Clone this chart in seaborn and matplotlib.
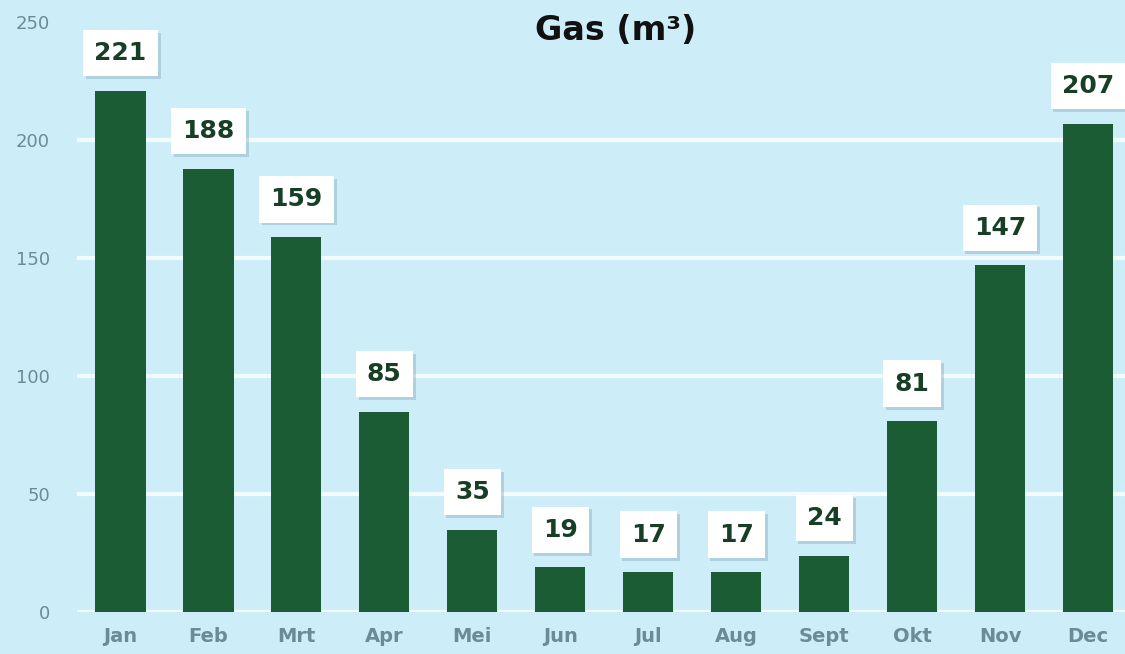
import matplotlib
matplotlib.use("Agg")
import matplotlib.pyplot as plt
import matplotlib.patheffects as pe
import seaborn as sns
import pandas as pd

# data
months = ["Jan", "Feb", "Mrt", "Apr", "Mei", "Jun", "Jul", "Aug", "Sept", "Okt", "Nov", "Dec"]
gas = [221, 188, 159, 85, 35, 19, 17, 17, 24, 81, 147, 207]
yticks = [0, 50, 100, 150, 200, 250]

bg = "#cdeef9"
bar_color = "#1b5c34"
tick_color = "#6a8c98"

sns.set_style("whitegrid", {"axes.facecolor": bg, "figure.facecolor": bg,
                            "grid.color": "white", "axes.edgecolor": bg})
plt.rcParams["font.family"] = ["DejaVu Sans"]

df = pd.DataFrame({"month": months, "gas": gas})

fig = plt.figure(figsize=(11.25, 6.54), dpi=100)
ax = fig.add_axes([0.068, 0.064, 0.932, 0.902])

sns.barplot(data=df, x="month", y="gas", color=bar_color, saturation=1,
            width=0.57, linewidth=0, ax=ax, zorder=3)

ax.set_ylim(0, 250)
ax.set_xlim(-0.5, 11.42)
ax.set_yticks(yticks)
ax.grid(axis="y", color="#f4fbfd", linewidth=3, zorder=0)
ax.grid(axis="x", visible=False)
ax.set_axisbelow(True)
# no gridline at the top tick
ax.get_ygridlines()[-1].set_visible(False)
for s in ax.spines.values():
    s.set_visible(False)
ax.tick_params(axis="both", length=0, colors=tick_color)
ax.tick_params(axis="y", labelsize=13, pad=19)
ax.tick_params(axis="x", labelsize=14, pad=11)
for lbl in ax.get_xticklabels():
    lbl.set_fontweight("bold")
ax.set_xlabel("")
ax.set_ylabel("")

# value labels in white boxes
for i, v in enumerate(gas):
    t = ax.annotate(str(v), xy=(i, v), xytext=(0, 27), textcoords="offset points",
                    ha="center", va="center", fontsize=18, fontweight="bold",
                    color="#173f26", zorder=5, annotation_clip=False,
                    bbox=dict(boxstyle="square,pad=0.45", facecolor="white",
                              edgecolor="none"))
    t.get_bbox_patch().set_path_effects([
        pe.SimplePatchShadow(offset=(2, -2), shadow_rgbFace="#7fa9b5", alpha=0.4),
        pe.Normal()])

fig.text(0.547, 0.953, "Gas (m³)", ha="center", va="center", fontsize=24,
         fontweight="bold", color="#111111")

fig.savefig("out.png", dpi=100, facecolor=bg)
